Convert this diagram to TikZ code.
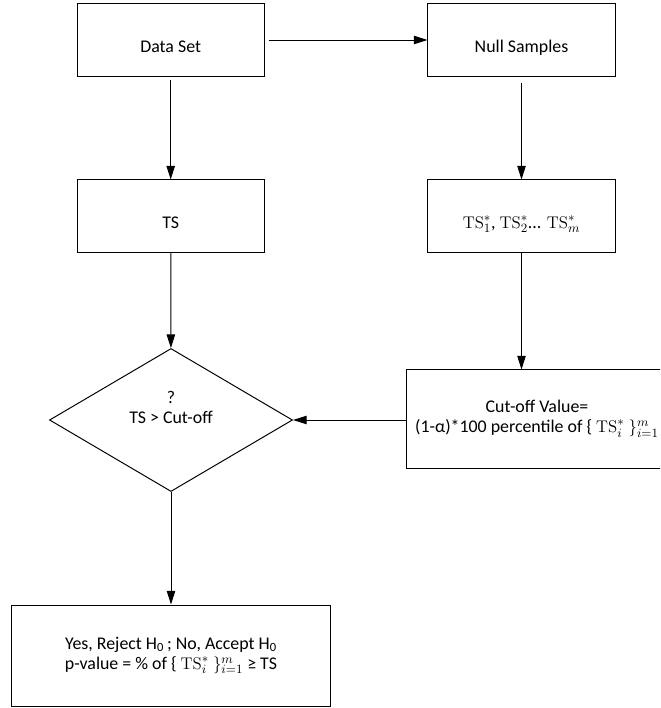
\documentclass[tikz,border=0pt]{standalone}
\usepackage[no-math]{fontspec}
\setmainfont{Carlito}
\usepackage{tikz}
\usetikzlibrary{shapes,arrows.meta,positioning,calc}

\begin{document}
\begin{tikzpicture}[x=0.025cm, y=-0.025cm,
        font=\fontsize{12.7}{14.2}\selectfont,
        >={Triangle[length=3.4mm, width=2.1mm]},
        block/.style={rectangle, draw, line width=0.7pt, minimum width=4.675cm, minimum height=1.8cm, inner sep=0pt, text height=0.64cm, text depth=0cm, text centered},
        wide/.style={rectangle, draw, line width=0.7pt, inner sep=0pt, align=center},
        check/.style={diamond, draw, line width=0.7pt, shape aspect=1.7, minimum width=6.075cm, minimum height=3.575cm, inner sep=0pt, align=center},
        flow/.style={->, line width=0.7pt}]

        \path[use as bounding box, clip] (0,0) rectangle (660,708);

        % Observed data
        \node[block] (data) at (170.7, 40) {Data Set};
        \node[block] (ts) at (170.7, 216) {TS};

        % Null distribution
        \node[block] (null) at (521.5, 40) {Null Samples};
        \node[block] (tsnull) at (521.5, 216) {$\mathrm{TS}^*_1$, $\mathrm{TS}^*_2$... $\mathrm{TS}^*_m$};
        \node[wide, minimum width=6.5cm, minimum height=2.45cm] (cutoff) at (537, 419)
            {Cut-off Value=\\(1-α)*100 percentile of \{ $\mathrm{TS}^*_i\ \}^m_{i=1}$};

        % Decision
        \node[check] (decide) at (171, 420) {?\\TS > Cut-off\\\strut};
        \node[wide, minimum width=7.95cm, minimum height=2.525cm] (result) at (171, 655.5)
            {Yes, Reject H\textsubscript{0}\,; No, Accept H\textsubscript{0}\\p-value = \% of \{ $\mathrm{TS}^*_i\ \}^m_{i=1}$ ≥ TS};

        \draw[flow, shorten <=1mm] (data) -- (null);
        \draw[flow, shorten <=1mm] (data) -- (ts);
        \draw[flow, shorten <=1.5mm] (null) -- (tsnull);
        \draw[flow] (tsnull.south) -- (tsnull.south |- cutoff.north);
        \draw[flow] (ts) -- (decide);
        \draw[flow] (cutoff.west |- decide.east) -- (decide.east);
        \draw[flow] (decide) -- (result);

    \end{tikzpicture}
\end{document}
